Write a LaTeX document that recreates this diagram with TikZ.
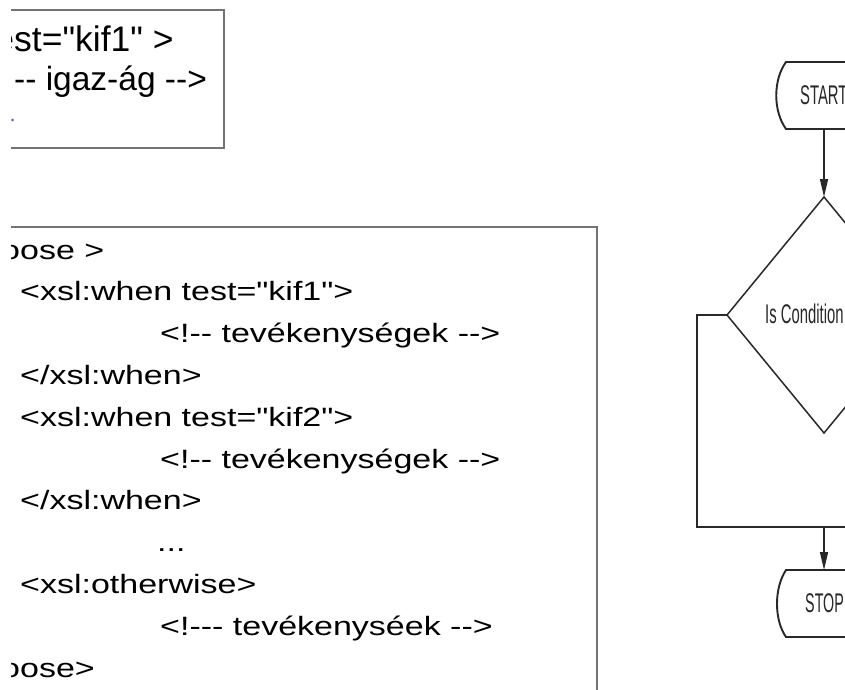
\documentclass[tikz,border=0pt]{standalone}
\usepackage{fontspec}
\usetikzlibrary{arrows.meta}
\newfontfamily\arialf{Liberation Sans}
\definecolor{boxgray}{RGB}{115,115,115}
\definecolor{flowline}{RGB}{40,40,40}
\definecolor{dotblue}{RGB}{60,90,170}
\begin{document}
\begin{tikzpicture}[x=1pt,y=-1pt,
  codetop/.style={anchor=base west, inner sep=0pt, font=\arialf\fontsize{35.5}{40}\selectfont},
  codebot/.style={anchor=base west, inner sep=0pt, font=\arialf\fontsize{34}{40}\selectfont},
  flowtext/.style={anchor=west, inner sep=0pt, font=\arialf\fontsize{27}{30}\selectfont, text=flowline},
  framebox/.style={draw=boxgray, line width=2pt},
  flowstroke/.style={draw=flowline, line width=1.5pt},
  termstroke/.style={draw=flowline, line width=1.9pt},
  flowarrow/.style={flowstroke, -{Triangle[length=18pt,width=8pt]}}
]
\useasboundingbox (0,0) rectangle (845,689);
\fill[white] (0,0) rectangle (845,689);
\begin{scope}
\clip (11,0) rectangle (845,689);
% top code box
\draw[framebox] (0,10) -- (224,10) -- (224,148) -- (0,148);
\node[codetop] (t1) at (-5.7,51) {est="kif1" >};
\node[codetop, font=\arialf\fontsize{33.5}{40}\selectfont] (t2) at (14,90) {-- igaz-ág -->};
\fill[dotblue] (12.5,120) circle (1.3);
% bottom code box
\draw[framebox] (0,227) -- (597,227) -- (597,700);
\node[codebot] (b0) at (1,259) {\scalebox{1}[0.78]{oose >}};
\node[codebot] (b1) at (20,300.8) {\scalebox{1}[0.78]{<xsl:when test="kif1">}};
\node[codebot] (b2) at (160,342.6) {\scalebox{1}[0.78]{<!-- tevékenységek -->}};
\node[codebot] (b3) at (20,384.4) {\scalebox{1}[0.78]{</xsl:when>}};
\node[codebot] (b4) at (20,426.2) {\scalebox{1}[0.78]{<xsl:when test="kif2">}};
\node[codebot] (b5) at (160,468) {\scalebox{1}[0.78]{<!-- tevékenységek -->}};
\node[codebot] (b6) at (20,509.8) {\scalebox{1}[0.78]{</xsl:when>}};
\node[codebot] (b7) at (157,551.6) {\scalebox{1}[0.78]{...}};
\node[codebot] (b8) at (20,593.4) {\scalebox{1}[0.78]{<xsl:otherwise>}};
\node[codebot] (b9) at (160,635.2) {\scalebox{1}[0.78]{<!--- tevékenyséek -->}};
\node[codebot] (b10) at (1,677) {\scalebox{1}[0.78]{oose>}};
% flowchart
\coordinate (startbot) at (824,129);
\coordinate (dtop) at (824,197);
\coordinate (dleft) at (727,315);
\coordinate (dbot) at (824,433);
\coordinate (dright) at (921,315);
\coordinate (loopA) at (697,315);
\coordinate (loopB) at (697,527);
\coordinate (loopC) at (860,527);
\coordinate (joinpt) at (824,527);
\coordinate (stoptop) at (824,570);
\draw[termstroke] (860,62) -- (786,62) .. controls (773,80) and (773,111) .. (786,129) -- (860,129);
\node[flowtext] (start) at (800,95.5) {\scalebox{0.55}[1]{START}};
\draw[flowstroke] (dtop) -- (dleft) -- (dbot) -- (dright) -- cycle;
\node[flowtext] (cond) at (765,314) {\scalebox{0.55}[1]{Is Condition}};
\draw[flowarrow] (startbot) -- (dtop);
\draw[flowstroke] (dleft) -- (loopA) -- (loopB) -- (loopC);
\draw[flowarrow] (joinpt) -- (stoptop);
\draw[termstroke] (860,570) -- (786,570) .. controls (774,588) and (774,620) .. (786,637) -- (860,637);
\node[flowtext] (stop) at (805,603) {\scalebox{0.53}[1]{STOP}};
\end{scope}
\end{tikzpicture}
\end{document}
